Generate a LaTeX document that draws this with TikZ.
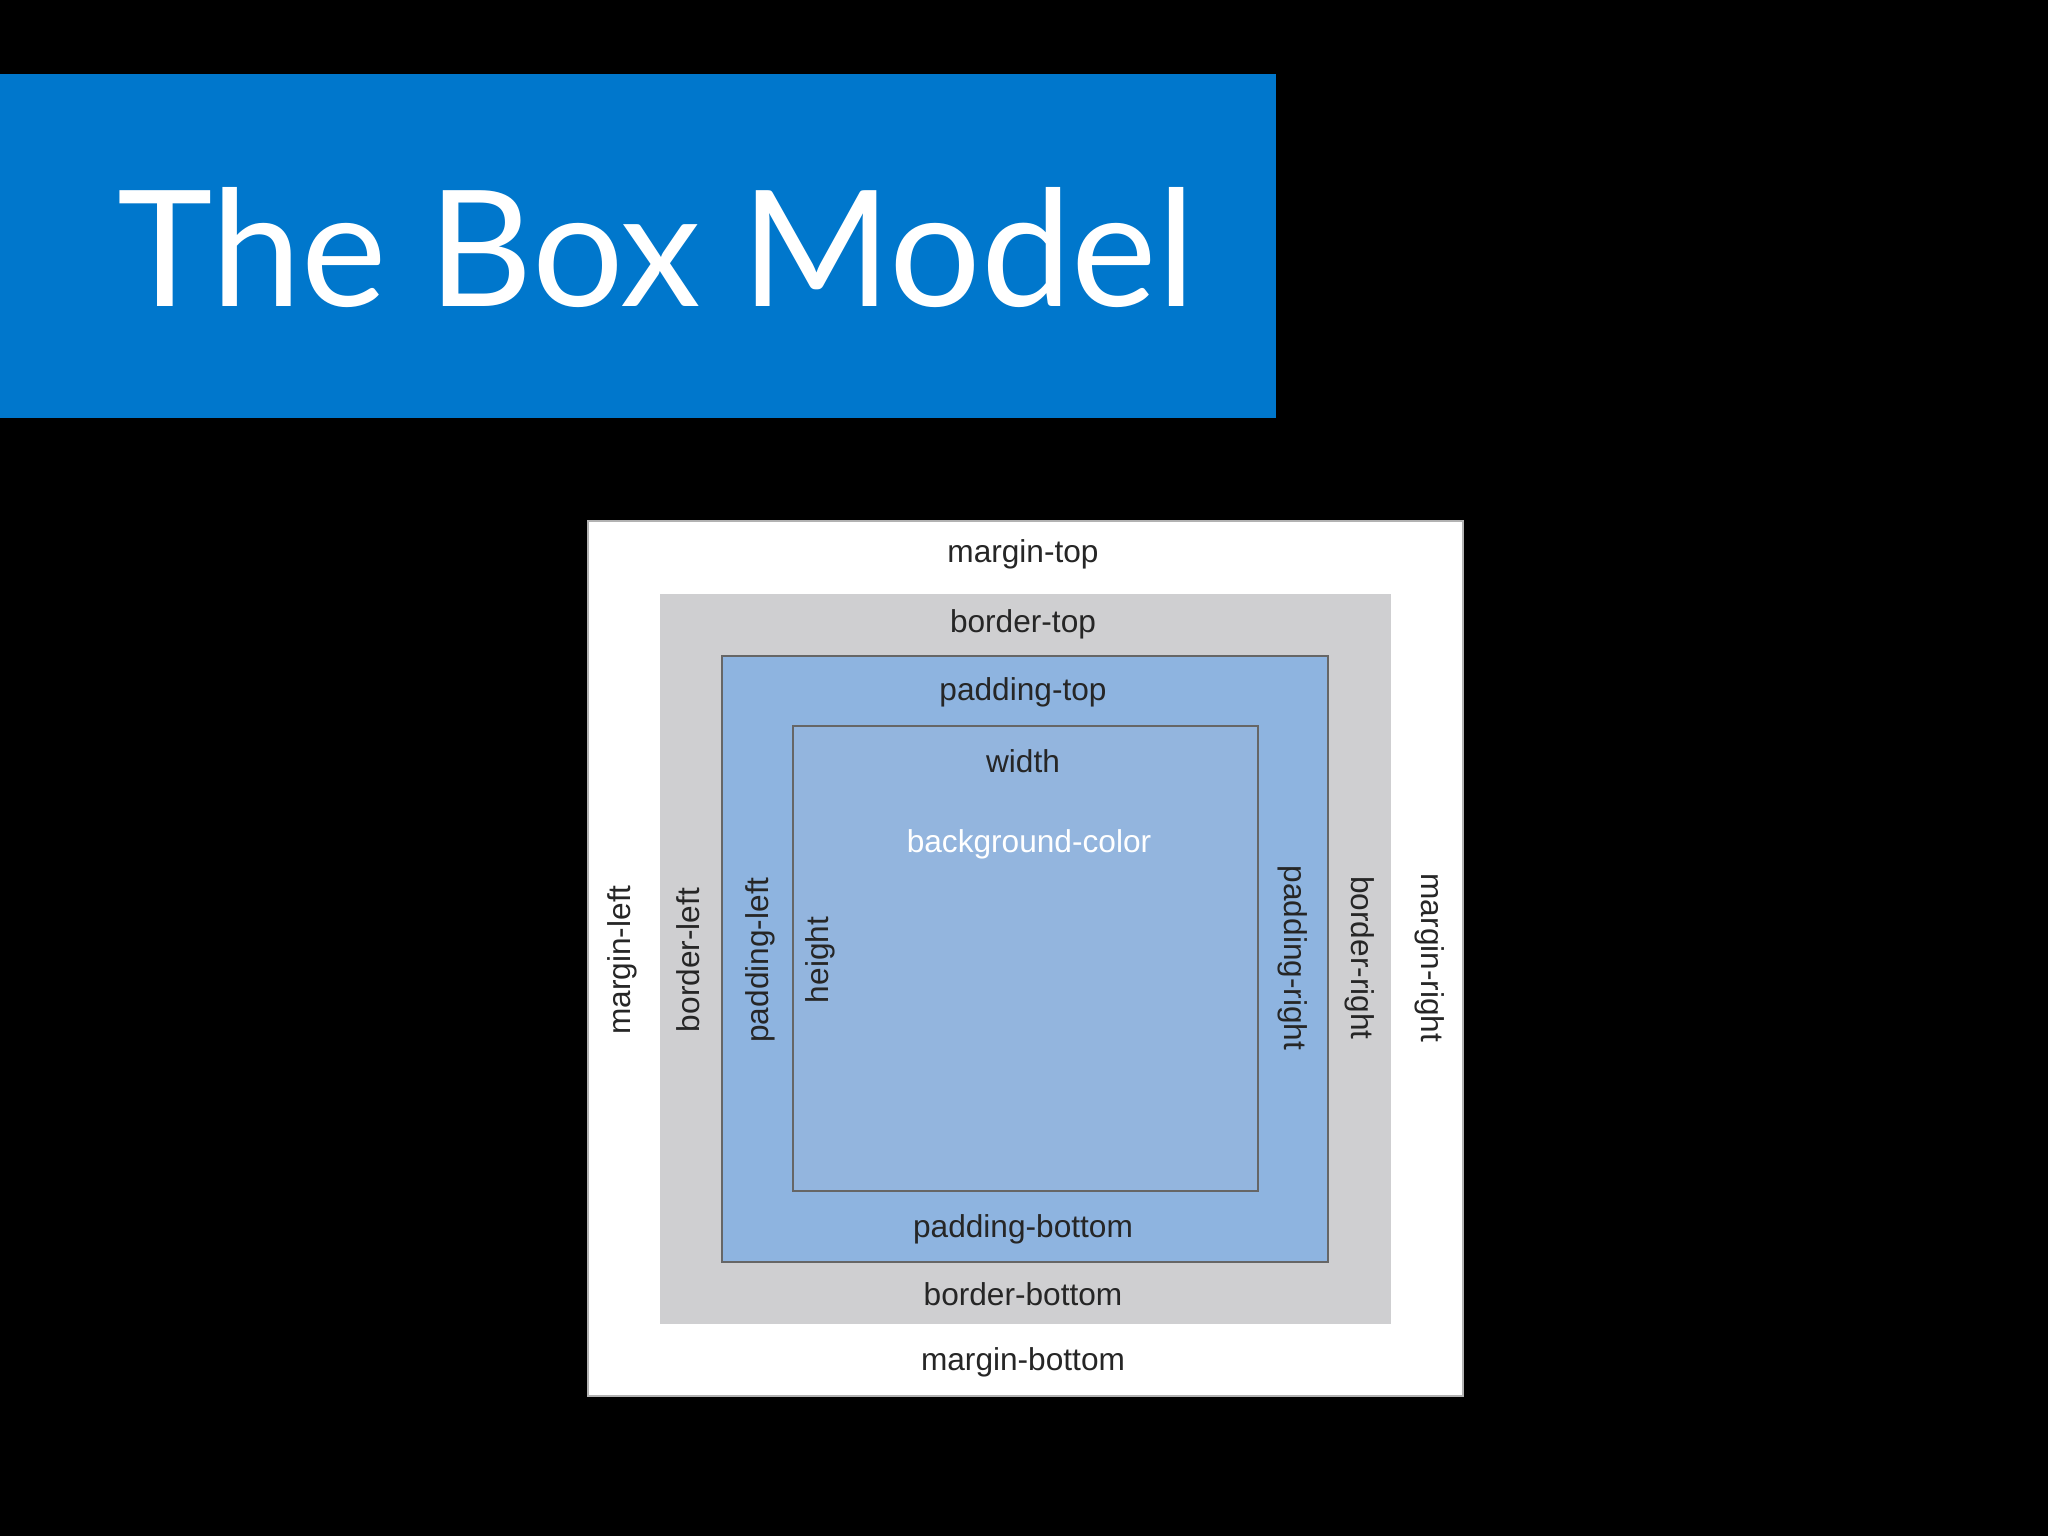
\documentclass[tikz,border=0pt]{standalone}
\usepackage{fontspec}
\setmainfont{Liberation Sans}
\newfontfamily\titlefont{Lato}
\usetikzlibrary{positioning}
\definecolor{titleblue}{HTML}{0077CC}
\definecolor{bordergray}{HTML}{CFCFD1}
\definecolor{padblue}{HTML}{8EB4E0}
\definecolor{contentblue}{HTML}{93B5DE}
\tikzset{
  lbl/.style={font=\fontsize{9}{10}\selectfont, text=black!85, inner sep=0pt},
  lblleft/.style={lbl, rotate=90},
  lblright/.style={lbl, rotate=-90},
  boxline/.style={draw=black!60, line width=0.6pt}
}
\begin{document}
\begin{tikzpicture}[x=1cm,y=-1cm]
\fill[black] (0,0) rectangle (20.48,15.36); % background
\useasboundingbox (0,0) rectangle (20.48,15.36);
\fill[titleblue] (0,0.74) rectangle (12.76,4.18); % title band
\node[anchor=west, text=white, font=\titlefont\fontsize{46}{50}\selectfont] (title) at (1.05,2.48) {The Box Model};
\filldraw[fill=white, draw=black!30] (5.88,5.21) rectangle (14.63,13.96); % margin
\fill[bordergray] (6.60,5.94) rectangle (13.91,13.24); % border
\filldraw[fill=padblue, boxline] (7.22,6.56) rectangle (13.28,12.62); % padding
\filldraw[fill=contentblue, boxline] (7.93,7.26) rectangle (12.58,11.91); % content
\node[lbl] (mtop) at (10.23,5.54) {margin-top};
\node[lbl] (btop) at (10.23,6.24) {border-top};
\node[lbl] (ptop) at (10.23,6.92) {padding-top};
\node[lbl] (width) at (10.23,7.61) {width};
\node[lbl, text=white] (bgcolor) at (10.29,8.44) {background-color};
\node[lblleft] (height) at (8.20,9.60) {height};
\node[lblleft] (pleft) at (7.60,9.60) {padding-left};
\node[lblleft] (bleft) at (6.88,9.60) {border-left};
\node[lblleft] (mleft) at (6.22,9.60) {margin-left};
\node[lblright] (pright) at (12.93,9.58) {padding-right};
\node[lblright] (bright) at (13.60,9.58) {border-right};
\node[lblright] (mright) at (14.30,9.58) {margin-right};
\node[lbl] (pbottom) at (10.23,12.29) {padding-bottom};
\node[lbl] (bbottom) at (10.23,12.94) {border-bottom};
\node[lbl] (mbottom) at (10.23,13.62) {margin-bottom};
\end{tikzpicture}
\end{document}
